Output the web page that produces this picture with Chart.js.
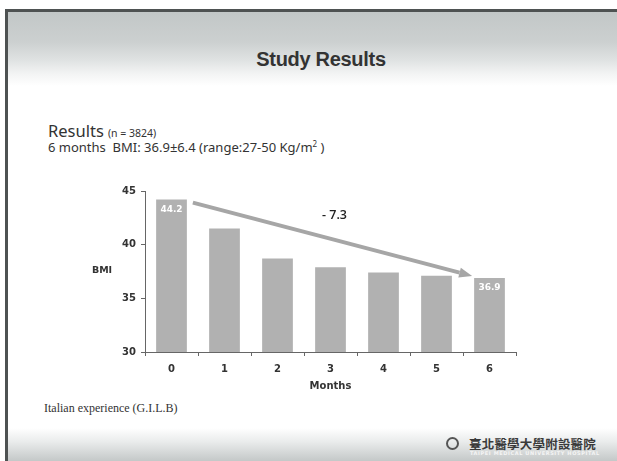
<!DOCTYPE html>
<html>
<head>
<meta charset="utf-8">
<script src="https://cdn.jsdelivr.net/npm/chart.js@4/dist/chart.umd.min.js"></script>
<style>
  html, body { margin: 0; padding: 0; background: #fff; }
  body { width: 617px; height: 461px; position: relative; overflow: hidden; }
  .slide {
    position: absolute; left: 5px; top: 9px; right: 0; bottom: 0;
    border-left: 3px solid #4e5252; border-top: 3px solid #4e5252;
    background:
      linear-gradient(to bottom, #c2c7c7 0px, #ccd0d0 30px, #dfe2e2 48px, #f3f4f4 62px, #ffffff 74px, #ffffff 416px, #e9ebeb 430px, #c4c8c8 449px);
  }
  .title {
    position: absolute; left: 5px; width: 632px; top: 48px; text-align: center;
    font: bold 20px "Liberation Sans", Arial, sans-serif; color: #333; letter-spacing: -0.3px;
  }
  .res {
    position: absolute; left: 48px; top: 119px; color: #333;
    font-family: "Noto Sans", sans-serif; white-space: nowrap;
  }
  .res .big { font-size: 16.5px; }
  .res .small { font-size: 10.5px; }
  .res2 {
    position: absolute; left: 48px; top: 138px; color: #333;
    font: 13px "Noto Sans", sans-serif; white-space: nowrap;
  }
  .res2 sup { font-size: 8px; }
  .foot {
    position: absolute; left: 44px; top: 401px; color: #333;
    font: 12px "Liberation Serif", "Times New Roman", serif; white-space: nowrap;
  }
  .logo-ring {
    position: absolute; left: 446px; top: 437px; width: 9px; height: 9px;
    border: 2px solid #555; border-radius: 50%;
  }
  .logo-zh {
    position: absolute; left: 469px; top: 434px; color: #3a3a3a;
    font: bold 12.5px "Noto Sans CJK TC", sans-serif; white-space: nowrap; letter-spacing: 0.2px;
  }
  .logo-en {
    position: absolute; left: 470px; top: 450px; color: #f4f4f4;
    font: bold 5px "DejaVu Sans", sans-serif; white-space: nowrap; letter-spacing: 0.6px;
  }
  canvas { position: absolute; left: 0; top: 0; }
</style>
</head>
<body>
<div class="slide"></div>
<div class="title">Study Results</div>
<div class="res"><span class="big">Results</span> <span class="small">(n = 3824)</span></div>
<div class="res2">6 months&nbsp; BMI: 36.9±6.4 (range:27-50 Kg/m<sup>2</sup> )</div>
<div class="foot">Italian experience (G.I.L.B)</div>
<div class="logo-ring"></div>
<div class="logo-zh">臺北醫學大學附設醫院</div>
<div class="logo-en">TAIPEI MEDICAL UNIVERSITY HOSPITAL</div>
<canvas id="c" width="617" height="461"></canvas>
<script>
// Mean BMI over the follow-up period
const months = ['0', '1', '2', '3', '4', '5', '6'];
const bmiValues = [44.2, 41.5, 38.7, 37.9, 37.4, 37.1, 36.9];
const yTicks = [30, 35, 40, 45];

const axisColor = '#666';
const textColor = '#333';
const barColor = '#b1b1b1';

// Draws the y-axis caption, the value labels on the first and last bars,
// and the arrow showing the overall change between them.
const annotations = {
  id: 'annotations',
  afterDatasetsDraw(chart) {
    const ctx = chart.ctx;
    const meta = chart.getDatasetMeta(0);
    const first = meta.data[0];
    const last = meta.data[meta.data.length - 1];
    const firstVal = bmiValues[0];
    const lastVal = bmiValues[bmiValues.length - 1];

    ctx.save();
    // value labels inside bars
    ctx.fillStyle = '#ffffff';
    ctx.font = 'bold 9px "DejaVu Sans"';
    ctx.textAlign = 'center';
    ctx.textBaseline = 'middle';
    ctx.fillText(firstVal.toFixed(1), first.x, first.y + 10);
    ctx.fillText(lastVal.toFixed(1), last.x, last.y + 10);

    // arrow from the first bar to the last bar
    const x1 = first.x + first.width / 2 + 6, y1 = first.y + 3;
    const x2 = last.x - last.width / 2 - 2, y2 = last.y - 2;
    const ang = Math.atan2(y2 - y1, x2 - x1);
    const headLen = 13, headW = 5;
    const arrowColor = '#a6a6a6';
    ctx.strokeStyle = arrowColor;
    ctx.lineWidth = 4;
    ctx.lineCap = 'butt';
    ctx.beginPath();
    ctx.moveTo(x1, y1);
    ctx.lineTo(x2 - Math.cos(ang) * headLen, y2 - Math.sin(ang) * headLen);
    ctx.stroke();
    ctx.fillStyle = arrowColor;
    ctx.beginPath();
    ctx.moveTo(x2, y2);
    ctx.lineTo(x2 - Math.cos(ang) * headLen - Math.sin(ang) * headW,
               y2 - Math.sin(ang) * headLen + Math.cos(ang) * headW);
    ctx.lineTo(x2 - Math.cos(ang) * headLen + Math.sin(ang) * headW,
               y2 - Math.sin(ang) * headLen - Math.cos(ang) * headW);
    ctx.closePath();
    ctx.fill();

    // overall change label
    const diff = (lastVal - firstVal).toFixed(1);
    ctx.fillStyle = '#222';
    ctx.font = '600 12.5px "Open Sans"';
    ctx.fillText('- ' + Math.abs(diff).toFixed(1), (x1 + x2) / 2 + 2, (y1 + y2) / 2 - 24);

    // y-axis caption, written horizontally
    const ys = chart.scales.y;
    ctx.fillStyle = textColor;
    ctx.font = 'bold 9.5px "DejaVu Sans"';
    ctx.fillText('BMI', 102, (ys.top + ys.bottom) / 2 - 1);
    ctx.restore();
  }
};

new Chart(document.getElementById('c'), {
  type: 'bar',
  data: {
    labels: months,
    datasets: [{
      data: bmiValues,
      backgroundColor: barColor,
      borderWidth: 0,
      categoryPercentage: 1,
      barPercentage: 0.58
    }]
  },
  options: {
    responsive: false,
    animation: false,
    events: [],
    layout: { padding: { left: 100, right: 101, top: 191, bottom: 69 } },
    plugins: { legend: { display: false }, tooltip: { enabled: false } },
    scales: {
      x: {
        grid: { display: true, drawOnChartArea: false, offset: true, tickLength: 4, color: axisColor, tickColor: axisColor },
        border: { color: axisColor, width: 1 },
        ticks: { color: textColor, font: { family: 'DejaVu Sans', size: 10, weight: 'bold' }, padding: 7 },
        title: { display: true, text: 'Months', color: textColor, font: { family: 'DejaVu Sans', size: 10, weight: 'bold' }, padding: { top: 0, bottom: 0 } },
        afterFit(s) { s.height = 40; }
      },
      y: {
        min: yTicks[0],
        max: yTicks[yTicks.length - 1],
        afterBuildTicks(s) { s.ticks = yTicks.map(v => ({ value: v })); },
        grid: { display: true, drawOnChartArea: false, tickLength: 4, color: axisColor, tickColor: axisColor },
        border: { color: axisColor, width: 1 },
        ticks: { color: textColor, font: { family: 'DejaVu Sans', size: 10, weight: 'bold' }, padding: 5 },
        afterFit(s) { s.width = 45; }
      }
    }
  },
  plugins: [annotations]
});
</script>
</body>
</html>
